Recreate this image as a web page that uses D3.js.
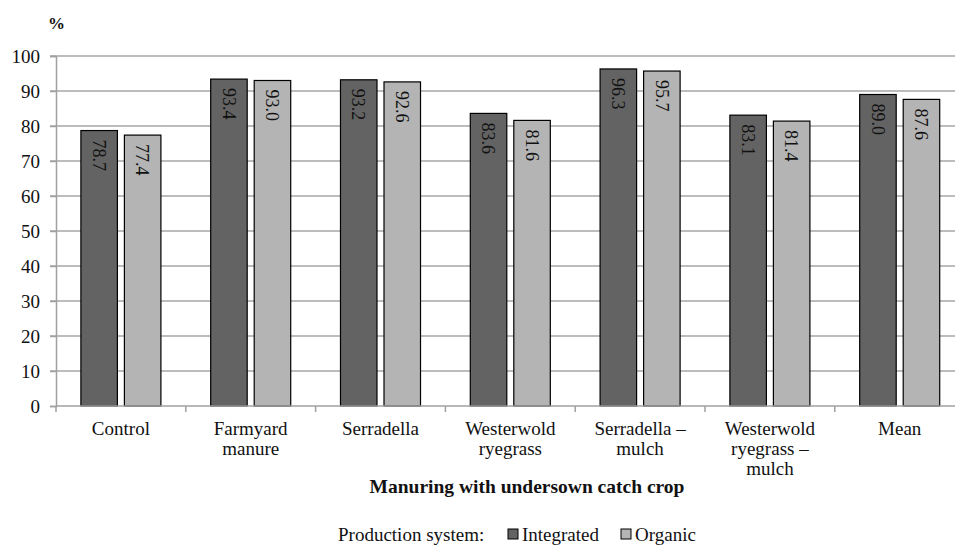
<!DOCTYPE html>
<html>
<head>
<meta charset="utf-8">
<script src="https://cdn.jsdelivr.net/npm/d3@7"></script>
<style>
  html, body { margin: 0; padding: 0; background: #fff; }
  svg { display: block; }
  svg text { font-family: "Liberation Serif", "DejaVu Serif", serif; }
</style>
</head>
<body>
<svg id="chart" width="955" height="546"></svg>
<script>
// Categories (multi-line labels split on "|")
const categories = [
  "Control",
  "Farmyard|manure",
  "Serradella",
  "Westerwold|ryegrass",
  "Serradella –|mulch",
  "Westerwold|ryegrass –|mulch",
  "Mean"
];
const seriesNames = ["Integrated", "Organic"];
const integrated = [78.7, 93.4, 93.2, 83.6, 96.3, 83.1, 89.0];
const organic    = [77.4, 93.0, 92.6, 81.6, 95.7, 81.4, 87.6];
const yTicks = [0, 10, 20, 30, 40, 50, 60, 70, 80, 90, 100];

const colors = { Integrated: "#636363", Organic: "#b4b4b4" };
const FONT = "Liberation Serif, DejaVu Serif, serif";

const svg = d3.select("#chart");
const plot = { left: 56, right: 964.6, top: 56, bottom: 406 };

const x = d3.scaleBand().domain(categories).range([plot.left, plot.right]).padding(0);
const xs = d3.scaleBand().domain(seriesNames).range([0, x.bandwidth()])
  .paddingInner(0.161).paddingOuter(0.572);
const y = d3.scaleLinear().domain([0, 100]).range([plot.bottom, plot.top]);

// Horizontal gridlines
svg.append("g").selectAll("line").data(yTicks.filter(d => d > 0)).join("line")
  .attr("x1", plot.left - 6).attr("x2", plot.right)
  .attr("y1", d => y(d)).attr("y2", d => y(d))
  .attr("stroke", "#bcbcbc").attr("stroke-width", 2);

// Y axis
const yAxis = svg.append("g").attr("transform", `translate(${plot.left},0)`)
  .call(d3.axisLeft(y).tickValues(yTicks).tickSize(6).tickPadding(10).tickFormat(d3.format("d")));
yAxis.attr("font-family", FONT).attr("font-size", 19);
yAxis.select(".domain").attr("stroke", "#a0a0a0").attr("stroke-width", 1.5);
yAxis.selectAll(".tick line").attr("stroke", "#a0a0a0").attr("stroke-width", 1.5);
yAxis.selectAll(".tick text").attr("font-size", 19).attr("fill", "#111")
  .attr("font-family", FONT);

// Bars
const rows = categories.map((c, i) => ({ cat: c, values: [
  { s: "Integrated", v: integrated[i] }, { s: "Organic", v: organic[i] }
]}));

const groups = svg.append("g").selectAll("g").data(rows).join("g")
  .attr("transform", d => `translate(${x(d.cat)},0)`);

groups.selectAll("rect").data(d => d.values).join("rect")
  .attr("x", d => xs(d.s)).attr("width", xs.bandwidth())
  .attr("y", d => y(d.v)).attr("height", d => y(0) - y(d.v))
  .attr("fill", d => colors[d.s]).attr("stroke", "#000").attr("stroke-width", 1.2);

// Value labels, rotated, inside the top of each bar
groups.selectAll("text.val").data(d => d.values).join("text")
  .attr("class", "val")
  .attr("transform", d => `translate(${xs(d.s) + xs.bandwidth() / 2},${y(d.v) + 9}) rotate(90)`)
  .attr("dy", "0.35em")
  .attr("text-anchor", "start")
  .attr("font-family", FONT)
  .attr("font-size", 18).attr("fill", "#111")
  .text(d => d3.format(".1f")(d.v));

// X axis baseline and category ticks
svg.append("line").attr("x1", plot.left).attr("x2", plot.right)
  .attr("y1", plot.bottom).attr("y2", plot.bottom)
  .attr("stroke", "#a0a0a0").attr("stroke-width", 1.5);
svg.append("g").selectAll("line").data(categories).join("line")
  .attr("x1", d => x(d)).attr("x2", d => x(d))
  .attr("y1", plot.bottom).attr("y2", plot.bottom + 6)
  .attr("stroke", "#a0a0a0").attr("stroke-width", 1.5);

// Category labels
svg.append("g").selectAll("text").data(categories).join("text")
  .attr("x", d => x(d) + x.bandwidth() / 2).attr("y", 435)
  .attr("text-anchor", "middle").attr("font-family", FONT).attr("font-size", 19).attr("fill", "#111")
  .each(function(d) {
    d.split("|").forEach((line, i) => {
      d3.select(this).append("tspan")
        .attr("x", x(d) + x.bandwidth() / 2).attr("dy", i === 0 ? 0 : 20).text(line);
    });
  });

// Unit label
svg.append("text").attr("x", 48).attr("y", 29).attr("font-family", FONT)
  .attr("font-size", 17).attr("font-weight", "bold").attr("fill", "#111").text("%");

// Axis title
svg.append("text").attr("x", 527).attr("y", 493).attr("text-anchor", "middle")
  .attr("font-family", FONT)
  .attr("font-size", 19.5).attr("font-weight", "bold").attr("fill", "#111")
  .text("Manuring with undersown catch crop");

// Legend
const legend = svg.append("g").attr("transform", "translate(338,541)");
legend.append("text").attr("x", 0).attr("y", 0).attr("font-family", FONT)
  .attr("font-size", 19).attr("fill", "#111").text("Production system:");
const legendItems = [
  { s: "Integrated", x: 170 },
  { s: "Organic", x: 283 }
];
legendItems.forEach(it => {
  legend.append("rect").attr("x", it.x).attr("y", -12).attr("width", 10).attr("height", 10)
    .attr("fill", colors[it.s]).attr("stroke", "#000").attr("stroke-width", 1);
  legend.append("text").attr("x", it.x + 14).attr("y", 0).attr("font-family", FONT)
    .attr("font-size", 19).attr("fill", "#111").text(it.s);
});
</script>
</body>
</html>
